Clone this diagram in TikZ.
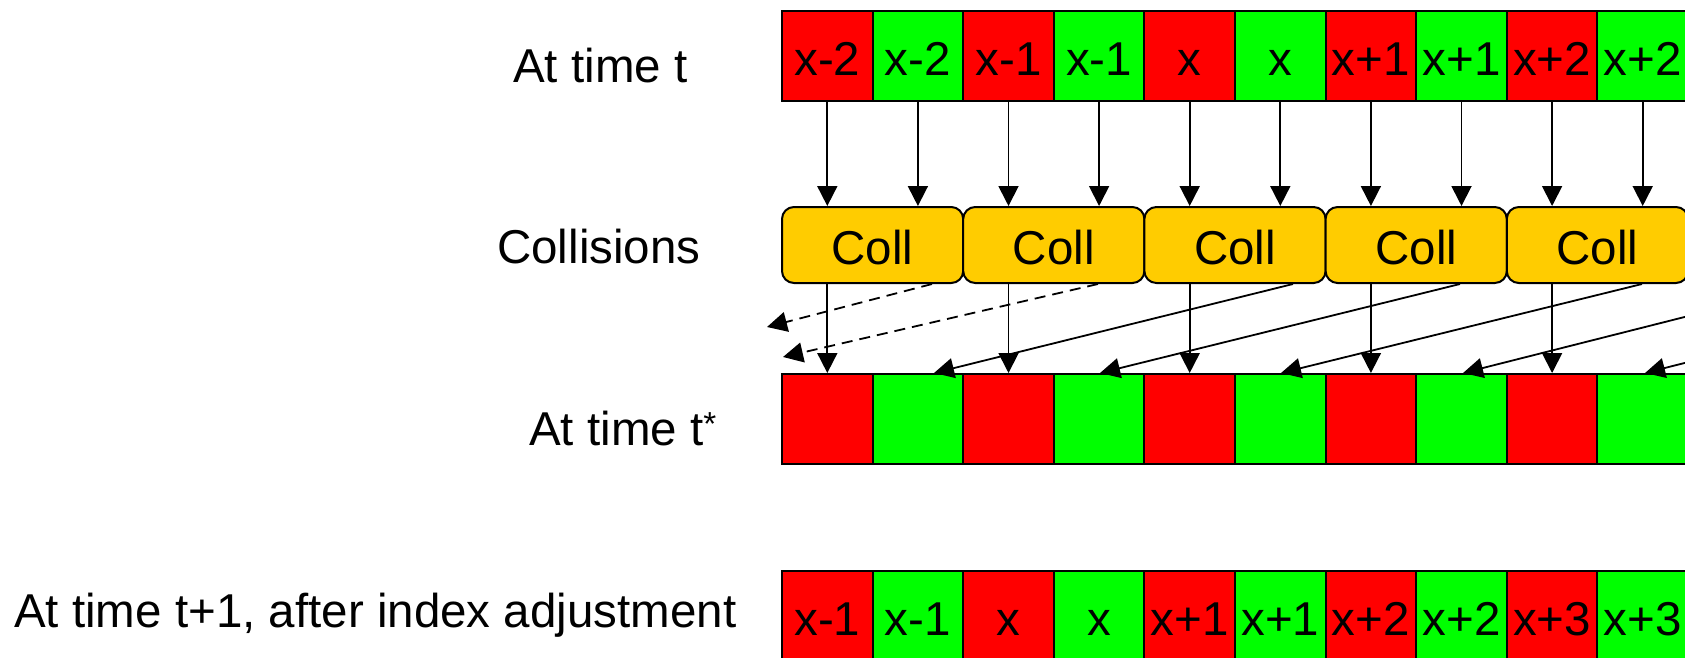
\documentclass[tikz,border=0pt]{standalone}
\usepackage{fontspec}
\setmainfont{Liberation Sans}
\usetikzlibrary{arrows.meta}
\definecolor{cellred}{HTML}{FF0000}
\definecolor{cellgreen}{HTML}{00FF00}
\definecolor{collgold}{HTML}{FFCC00}
\begin{document}
\begin{tikzpicture}[x=1pt,y=-1pt,
  bigfont/.style={font=\fontsize{47.5pt}{57pt}\selectfont},
  lbl/.style={bigfont, inner sep=0pt},
  cell/.style={bigfont, draw=black, line width=2pt, minimum width=90.6pt, minimum height=90pt,
    inner sep=0pt, text height=38pt, text depth=0pt, anchor=north west},
  collbox/.style={bigfont, draw=black, line width=2pt, fill=collgold, rounded corners=12pt,
    minimum width=181.2pt, minimum height=76pt, inner sep=0pt, text height=38pt, text depth=0pt,
    anchor=north west},
  arr/.style={line width=1.8pt, -{Triangle[length=20pt,width=20pt]}},
  dasharr/.style={arr, dash pattern=on 11pt off 7pt},
]
\useasboundingbox (0,0) rectangle (1685,657);
\clip (0,0) rectangle (1685,657);

% row labels
\node[lbl, anchor=base west] (l1) at (513,82) {At time t};
\node[lbl, anchor=base west] (l2) at (497,263) {Collisions};
\node[lbl, anchor=base west] (l3) at (529,445) {At time t\textsuperscript{*}};
\node[lbl, anchor=base west] (l4) at (14,627) {At time t+1, after index adjustment};

% row at time t
\foreach \lab/\col [count=\i] in {x-2/cellred,x-2/cellgreen,x-1/cellred,x-1/cellgreen,x/cellred,x/cellgreen,x+1/cellred,x+1/cellgreen,x+2/cellred,x+2/cellgreen}
  \node[cell, fill=\col] (t\i) at ({781+90.6*(\i-1)},10) {\lab};

% collision boxes
\foreach \k in {1,...,5}
  \node[collbox] (c\k) at ({781+181.2*(\k-1)},206) {Coll};

% row at time t*
\foreach \col [count=\i] in {cellred,cellgreen,cellred,cellgreen,cellred,cellgreen,cellred,cellgreen,cellred,cellgreen}
  \node[cell, fill=\col] (s\i) at ({781+90.6*(\i-1)},373) {};

% row at time t+1
\foreach \lab/\col [count=\i] in {x-1/cellred,x-1/cellgreen,x/cellred,x/cellgreen,x+1/cellred,x+1/cellgreen,x+2/cellred,x+2/cellgreen,x+3/cellred,x+3/cellgreen}
  \node[cell, fill=\col] (b\i) at ({781+90.6*(\i-1)},570) {\lab};

% arrows t -> collisions
\foreach \i in {1,...,10}{
  \pgfmathtruncatemacro\k{(\i+1)/2}
  \draw[arr] (t\i.south) -- (t\i.south |- c\k.north);
}

% straight arrows collisions -> t*
\foreach \k in {1,...,5}{
  \pgfmathtruncatemacro\i{2*\k-1}
  \draw[arr] (s\i.north |- c\k.south) -- (s\i.north);
}

% free ends
\coordinate (o1) at (767,327);
\coordinate (o2) at (783,357);
\coordinate (r6) at (1823,282);
\coordinate (r7) at (2004,282);

% streaming arrows
\draw[dasharr] (c1.south -| 932,0) -- (o1);
\draw[dasharr] (c2.south -| 1098,0) -- (o2);
\draw[arr] (c3.south -| 1293,0) -- (s2.north -| 934,0);
\draw[arr] (c4.south -| 1460,0) -- (s4.north -| 1100,0);
\draw[arr] (c5.south -| 1642,0) -- (s6.north -| 1281,0);
\draw[arr] (r6) -- (s8.north -| 1463,0);
\draw[arr] (r7) -- (s10.north -| 1645,0);
\end{tikzpicture}
\end{document}
